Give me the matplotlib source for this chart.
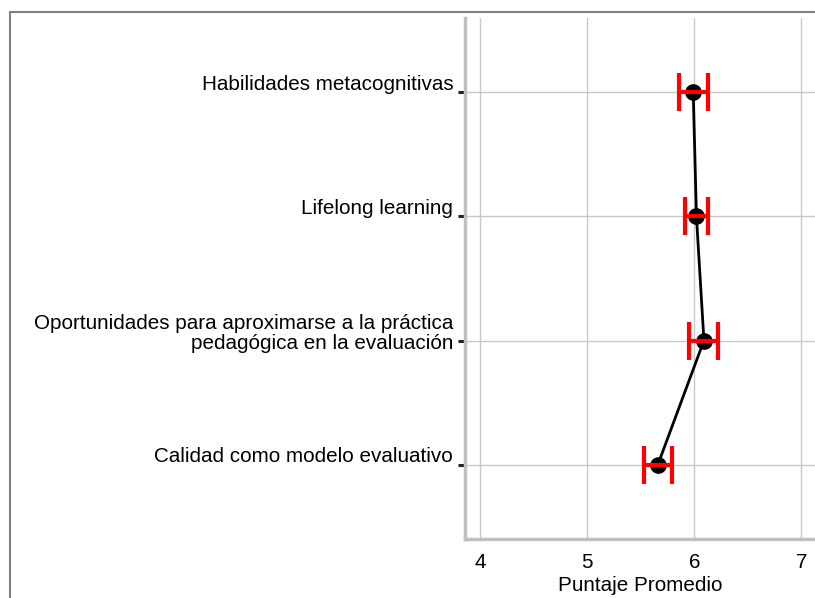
import numpy as np
import matplotlib.pyplot as plt
import matplotlib.transforms as mtransforms
from matplotlib.patches import Rectangle

plt.rcParams['font.family'] = ['Liberation Sans', 'DejaVu Sans']

categorias = ["Habilidades metacognitivas",
              "Lifelong learning",
              "Oportunidades para aproximarse a la práctica\npedagógica en la evaluación",
              "Calidad como modelo evaluativo"]
promedios = [5.99, 6.02, 6.09, 5.66]
errores = [0.134, 0.11, 0.135, 0.134]
ticks_x = [4, 5, 6, 7]

fig = plt.figure(figsize=(8.15, 5.98), dpi=100)
ax = fig.add_axes([465 / 815, 1 - 539 / 598, 1 - 465 / 815, (539 - 18) / 598])

posiciones = np.arange(len(categorias), 0, -1)

ax.plot(promedios, posiciones, color="black", lw=2, marker="o", markersize=11, zorder=3)
ax.errorbar(promedios, posiciones, xerr=errores, fmt="none", ecolor="red",
            elinewidth=3, capsize=14, capthick=3, zorder=4)

ax.set_xlim(3.857, 7.128)
ax.set_ylim(0.4, 4.6)
ax.set_xticks(ticks_x)
ax.set_yticks(posiciones)
ax.set_yticklabels(categorias, fontsize=14.9, linespacing=1.1)
ax.tick_params(axis="x", length=0, pad=10, labelsize=14.9)
ax.tick_params(axis="y", length=5, width=2.2, color="#222222", pad=3.5)
offset = mtransforms.ScaledTranslation(0, 7 / 72, fig.dpi_scale_trans)
for lab in ax.get_yticklabels():
    lab.set_transform(lab.get_transform() + offset)

ax.set_xlabel("Puntaje Promedio", fontsize=14.9, labelpad=3)
ax.grid(True, color="#c8c8c8", lw=1)
ax.set_axisbelow(True)
for s in ["top", "right"]:
    ax.spines[s].set_visible(False)
for s in ["left", "bottom"]:
    ax.spines[s].set_color("#c0c0c0")
    ax.spines[s].set_linewidth(2.5)

# marco gris de la figura
fig.patches.append(Rectangle((9.5 / 815, -0.1), 1.2, 1.1 - 12.5 / 598,
                             transform=fig.transFigure, fill=False,
                             edgecolor="#808080", lw=1.5, clip_on=False))

fig.savefig("out.png", dpi=100)
